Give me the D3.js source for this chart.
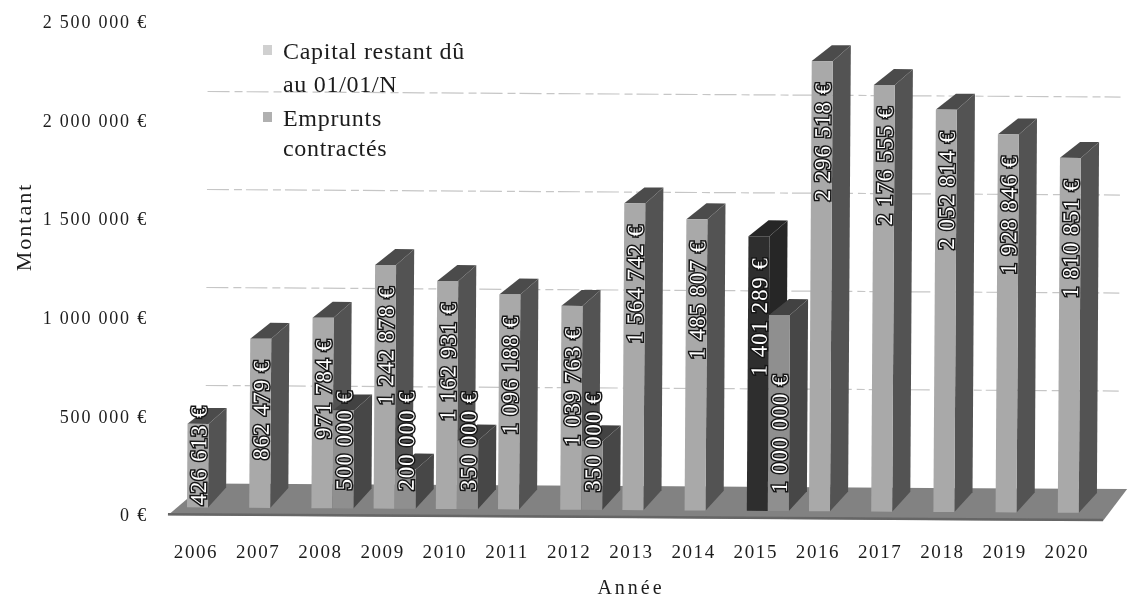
<!DOCTYPE html>
<html lang="fr"><head><meta charset="utf-8">
<script src="https://cdn.jsdelivr.net/npm/d3@7"></script>
<style>
html,body{margin:0;padding:0;background:#fff}
svg{display:block}
text{font-family:"Liberation Serif",serif;fill:#1c1c1c}
.lab{fill:#fff;stroke:#161616;stroke-width:3px;paint-order:stroke;font-size:23px;letter-spacing:0.9px}
</style></head><body>
<svg id="c" width="1129" height="599"></svg>
<script>
const years=[2006,2007,2008,2009,2010,2011,2012,2013,2014,2015,2016,2017,2018,2019,2020];
const capital=[426613,862479,971784,1242878,1162931,1096188,1039763,1564742,1485807,1401289,2296518,2176555,2052814,1928846,1810851];
const emprunts=[0,0,500000,200000,350000,0,350000,0,0,1000000,0,0,0,0,0];
const axisTicks=[0,500000,1000000,1500000,2000000,2500000];
const gridTicks=[500000,1000000,1500000,2000000];
const darkYears=[2015];
const legendItems=[["Capital restant dû","au 01/01/N"],["Emprunts","contractés"]];

const svg=d3.select("#c");
svg.append("defs").append("filter").attr("id","scan").attr("x",0).attr("y",0).attr("width",1).attr("height",1)
  .append("feGaussianBlur").attr("stdDeviation",0.6);
const g=svg.append("g").attr("filter","url(#scan)");
const plot=g.append("g").attr("transform","rotate(0.35,617,510)");

const W=21,DXB=20,DXT=16,DYT=16,DYB=20;
const x=d3.scaleBand().domain(years).range([187,187+15*62.2-20.2]).paddingInner(20.2/62.2).paddingOuter(0);
const y=d3.scaleLinear().domain([0,2500000]).range([510,510-490]);
const yBack=d3.scaleLinear().domain([0,2500000]).range([486,486-490]);
const yAxisS=d3.scaleLinear().domain([0,2500000]).range([515,22]);
const fr=n=>d3.format(",")(n).replace(/,/g," ")+" €";

// back wall gridlines
plot.append("g").selectAll("line").data(gridTicks).join("line")
  .attr("x1",205).attr("x2",1118).attr("y1",yBack).attr("y2",yBack)
  .attr("stroke","#c6c6c6").attr("stroke-width",1.2).attr("stroke-dasharray","22 5 8 4");

// floor
plot.append("polygon").attr("points",[[168,518],[1103,518],[1127,486],[205,486]].join(" ")).attr("fill","#828282");
plot.append("line").attr("x1",168).attr("x2",1103).attr("y1",517).attr("y2",517).attr("stroke","#666").attr("stroke-width",2.5);

function bar(parent,x0,v,c){
  const top=y(v),base=y(0),xb=x0+W+DXB-2;
  const p=parent.append("g");
  p.append("polygon").attr("points",[[x0+W,base],[xb,base-DYB],[xb,top-DYT],[x0+W,top]].join(" ")).attr("fill",c.side);
  p.append("polygon").attr("points",[[x0,top],[x0+W,top],[xb,top-DYT],[xb-W+2,top-DYT]].join(" ")).attr("fill",c.top);
  p.append("polygon").attr("points",[[x0,base],[x0+W,base],[x0+W,top],[x0,top]].join(" ")).attr("fill",c.front);
}
const capC={front:"#a9a9a9",side:"#525252",top:"#4c4c4c"};
const empC={front:"#8f8f8f",side:"#464646",top:"#424242"};
const darkC={front:"#2f2f2f",side:"#262626",top:"#282828"};

const bars=plot.append("g");
years.forEach((yr,i)=>{
  bar(bars,x(yr),capital[i],darkYears.includes(yr)?darkC:capC);
  if(emprunts[i]>0) bar(bars,x(yr)+W,emprunts[i],empC);
});

// value labels
const labels=plot.append("g");
years.forEach((yr,i)=>{
  const v=capital[i],top=y(v),endY=Math.min(top+21,y(0)-102),cx=x(yr)+W/2+1;
  labels.append("text").attr("class","lab").attr("text-anchor","end").attr("dominant-baseline","central")
    .attr("transform",`translate(${cx},${endY}) rotate(-90)`).text(fr(v));
  if(emprunts[i]>0){
    const ex=x(yr)+W+W/2+1;
    labels.append("text").attr("class","lab").attr("text-anchor","start").attr("dominant-baseline","central")
      .attr("transform",`translate(${ex},${y(0)-18}) rotate(-90)`).text(fr(emprunts[i]));
  }
});

// y axis
const ya=g.append("g").attr("transform","translate(148,0)")
  .call(d3.axisLeft(yAxisS).tickValues(axisTicks).tickFormat(fr).tickSize(0).tickPadding(0));
ya.select(".domain").remove();
ya.selectAll("text").attr("font-family","Liberation Serif").attr("font-size",18).attr("letter-spacing","1.8px").attr("fill","#222");

// x axis
const xa=g.append("g").attr("transform","translate(-12,544)")
  .call(d3.axisBottom(x).tickSize(0).tickPadding(0));
xa.select(".domain").remove();
xa.selectAll("text").attr("font-family","Liberation Serif").attr("font-size",19).attr("letter-spacing","1.6px").attr("fill","#222");

g.append("text").attr("x",631).attr("y",594).attr("text-anchor","middle").attr("font-size",20).attr("letter-spacing","3px").text("Année");
g.append("text").attr("transform","translate(31,227) rotate(-90)").attr("text-anchor","middle").attr("font-size",22).attr("letter-spacing","2px").text("Montant");

// legend
const leg=g.append("g");
const legY=[[59,92],[126,156]];
const swFill=["#d0d0d0","#b0b0b0"];
legendItems.forEach((lines,i)=>{
  leg.append("rect").attr("x",263).attr("y",legY[i][0]-14).attr("width",9).attr("height",10).attr("fill",swFill[i]);
  lines.forEach((t,j)=>leg.append("text").attr("x",283).attr("y",legY[i][j]).attr("font-size",24).attr("letter-spacing","0.7px").text(t));
});
</script></body></html>
